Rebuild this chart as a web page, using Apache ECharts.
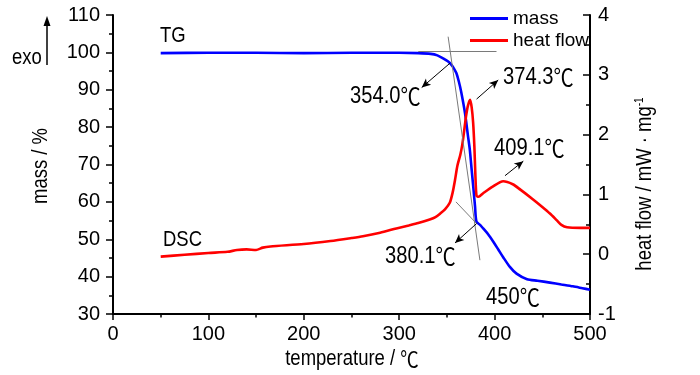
<!DOCTYPE html>
<html>
<head>
<meta charset="utf-8">
<script src="https://cdn.jsdelivr.net/npm/echarts@6/dist/echarts.min.js"></script>
<style>
  html, body { margin: 0; padding: 0; background: #fff; }
  #chart { width: 700px; height: 375px; }
</style>
</head>
<body>
<div id="chart"></div>
<script>
// TG curve (mass %)
const tgTemp = [50, 100, 150, 200, 250, 300, 320, 333, 340, 346, 351, 355, 358, 360, 362.5, 365, 369, 372, 374, 376, 378, 379.5, 381, 385, 388, 393, 399, 404, 409, 416, 423, 434, 445, 458, 470, 482, 492, 500];
const tgMass = [99.8, 99.9, 99.9, 99.8, 99.9, 99.9, 99.8, 99.6, 99.2, 98.4, 97.6, 96.6, 95.4, 94.4, 92.2, 89.4, 83.7, 77.8, 74, 68.5, 63, 58.7, 54.7, 53.8, 52.9, 51.4, 49.2, 47.2, 45.2, 42.6, 40.8, 39.3, 38.9, 38.4, 37.9, 37.4, 36.9, 36.5];

// DSC curve (heat flow mW/mg)
const dscTemp = [50, 75, 100, 120, 130, 140, 150, 157, 165, 200, 228, 250, 262, 280, 297, 310, 320, 332, 338, 343, 348, 353, 356, 358.5, 361, 364, 366, 368, 370, 372, 374.3, 376, 377.5, 378.8, 379.8, 381, 383, 388, 398, 409, 419, 427, 440, 450, 458, 465, 470, 476, 490, 500];
const dscHeat = [-0.04, -0.01, 0.02, 0.04, 0.07, 0.08, 0.07, 0.11, 0.13, 0.17, 0.22, 0.27, 0.30, 0.36, 0.43, 0.48, 0.52, 0.58, 0.62, 0.68, 0.75, 0.86, 1.03, 1.24, 1.48, 1.66, 1.82, 2.05, 2.30, 2.48, 2.58, 2.45, 2.20, 1.80, 1.35, 0.98, 0.96, 1.02, 1.13, 1.22, 1.17, 1.08, 0.92, 0.79, 0.68, 0.57, 0.49, 0.45, 0.44, 0.44];

const xTicks = [0, 100, 200, 300, 400, 500];
const peakLabels = ['354.0', '374.3', '409.1', '380.1', '450'];

const fam = "'Liberation Sans','Noto Sans CJK SC',sans-serif";
const cjk = "'Noto Sans CJK SC',sans-serif";
const narrow = 0.84;

const chart = echarts.init(document.getElementById('chart'));

const arrowLine = (a, b) => [
  { coord: a, symbol: 'none' },
  { coord: b, symbol: 'arrow', symbolSize: [6, 9] }
];
const plainLine = (a, b) => [
  { coord: a, symbol: 'none' },
  { coord: b, symbol: 'none' }
];

// text helper, squeezed horizontally to look like the narrow original font
const txt = (x, y, s, size, opts) => {
  opts = opts || {};
  const align = opts.align || 'left';
  return {
    type: 'text', x: x, y: y, silent: true,
    rotation: opts.rot || 0,
    scaleX: narrow, scaleY: 1,
    style: {
      text: s,
      align: align, verticalAlign: 'middle',
      textAlign: align, textVerticalAlign: 'middle',
      rich: {
        n: { fontSize: size, fontFamily: fam, fill: '#000', color: '#000' },
        c: { fontSize: size, fontFamily: cjk, fill: '#000', color: '#000' },
        s: { fontSize: Math.round(size * 0.55), fontFamily: fam, fill: '#000', color: '#000', verticalAlign: 'top', padding: [0, 0, Math.round(size * 0.5), 0] }
      }
    }
  };
};
const degTxt = (x, y, v) => txt(x, y, '{n|' + v + '}{c|℃}', 24);

const option = {
  animation: false,
  backgroundColor: '#fff',
  grid: { left: 113, right: 110, top: 15, bottom: 61 },
  legend: {
    orient: 'vertical', left: 465, top: 3,
    itemWidth: 38, itemHeight: 3, itemGap: 1, icon: 'rect',
    textStyle: { fontSize: 19, fontFamily: fam, color: '#000', lineHeight: 21 },
    data: ['mass', 'heat flow']
  },
  xAxis: {
    type: 'value', min: 0, max: 500, interval: 100,
    axisLine: { show: true, onZero: false, lineStyle: { color: '#000', width: 2 } },
    axisTick: { show: true, length: 6, lineStyle: { color: '#000', width: 1.5 } },
    minorTick: { show: true, splitNumber: 2, length: 3.5, lineStyle: { color: '#000', width: 1.5 } },
    splitLine: { show: false },
    axisLabel: {
      fontSize: 20, fontFamily: fam, color: '#000', margin: 10,
      formatter: v => xTicks.includes(v) ? String(v) : ''
    }
  },
  yAxis: [
    {
      type: 'value', min: 30, max: 110, interval: 10, position: 'left',
      axisLine: { show: true, onZero: false, lineStyle: { color: '#000', width: 2 } },
      axisTick: { show: true, length: 7, lineStyle: { color: '#000', width: 1.5 } },
      minorTick: { show: true, splitNumber: 2, length: 4, lineStyle: { color: '#000', width: 1.5 } },
      splitLine: { show: false },
      axisLabel: { fontSize: 20, fontFamily: fam, color: '#000', margin: 13 }
    },
    {
      type: 'value', min: -1, max: 4, interval: 1, position: 'right',
      axisLine: { show: true, onZero: false, lineStyle: { color: '#000', width: 2 } },
      axisTick: { show: true, inside: true, length: 7, lineStyle: { color: '#000', width: 1.5 } },
      minorTick: { show: true, splitNumber: 2, length: 4, lineStyle: { color: '#000', width: 1.5 } },
      splitLine: { show: false },
      axisLabel: { fontSize: 20, fontFamily: fam, color: '#000', margin: 8 }
    }
  ],
  series: [
    {
      name: 'mass', type: 'line', yAxisIndex: 0,
      data: tgTemp.map((t, i) => [t, tgMass[i]]),
      showSymbol: false, smooth: 0.25,
      lineStyle: { color: '#0000ff', width: 2.6 },
      itemStyle: { color: '#0000ff' },
      z: 3,
      markLine: {
        silent: true, animation: false,
        label: { show: false },
        lineStyle: { color: '#7a7a7a', width: 1, type: 'solid' },
        data: [
          plainLine([320, 100.3], [402, 100.3]),
          plainLine([351.3, 104.2], [384.6, 44.4]),
          plainLine([359.5, 60.0], [381.1, 54.2])
        ]
      }
    },
    {
      name: 'heat flow', type: 'line', yAxisIndex: 1,
      data: dscTemp.map((t, i) => [t, dscHeat[i]]),
      showSymbol: false, smooth: 0.25,
      lineStyle: { color: '#ff0000', width: 2.6 },
      itemStyle: { color: '#ff0000' },
      z: 4
    },
    {
      name: 'arrows', type: 'line', yAxisIndex: 0, data: [],
      markLine: {
        silent: true, animation: false,
        label: { show: false },
        lineStyle: { color: '#000', width: 1, type: 'solid' },
        itemStyle: { color: '#000' },
        data: [
          arrowLine([353.2, 97.1], [323.6, 90.6]),
          arrowLine([381.1, 87.5], [403.8, 92.6]),
          arrowLine([410.9, 67.0], [430.1, 70.9]),
          arrowLine([381.1, 54.2], [358.5, 49.0])
        ]
      }
    }
  ],
  graphic: [
    txt(160, 36, '{n|TG}', 22),
    txt(163, 240, '{n|DSC}', 22),
    degTxt(350, 96, peakLabels[0]),
    degTxt(503, 77, peakLabels[1]),
    degTxt(494, 148, peakLabels[2]),
    degTxt(385, 256, peakLabels[3]),
    degTxt(486, 297, peakLabels[4]),
    txt(12, 58, '{n|exo}', 22),
    txt(352, 359, '{n|temperature / }{c|℃}', 22, { align: 'center' }),
    txt(41, 166, '{n|mass / %}', 22, { align: 'center', rot: Math.PI / 2 }),
    txt(645, 184, '{n|heat flow / mW · mg}{s|-1}', 22, { align: 'center', rot: Math.PI / 2 }),
    {
      type: 'line', silent: true,
      shape: { x1: 47, y1: 65, x2: 47, y2: 24 },
      style: { stroke: '#000', lineWidth: 1.5 }
    },
    {
      type: 'polygon', silent: true,
      shape: { points: [[47, 16], [43.5, 26], [50.5, 26]] },
      style: { fill: '#000' }
    }
  ]
};

chart.setOption(option);
</script>
</body>
</html>
